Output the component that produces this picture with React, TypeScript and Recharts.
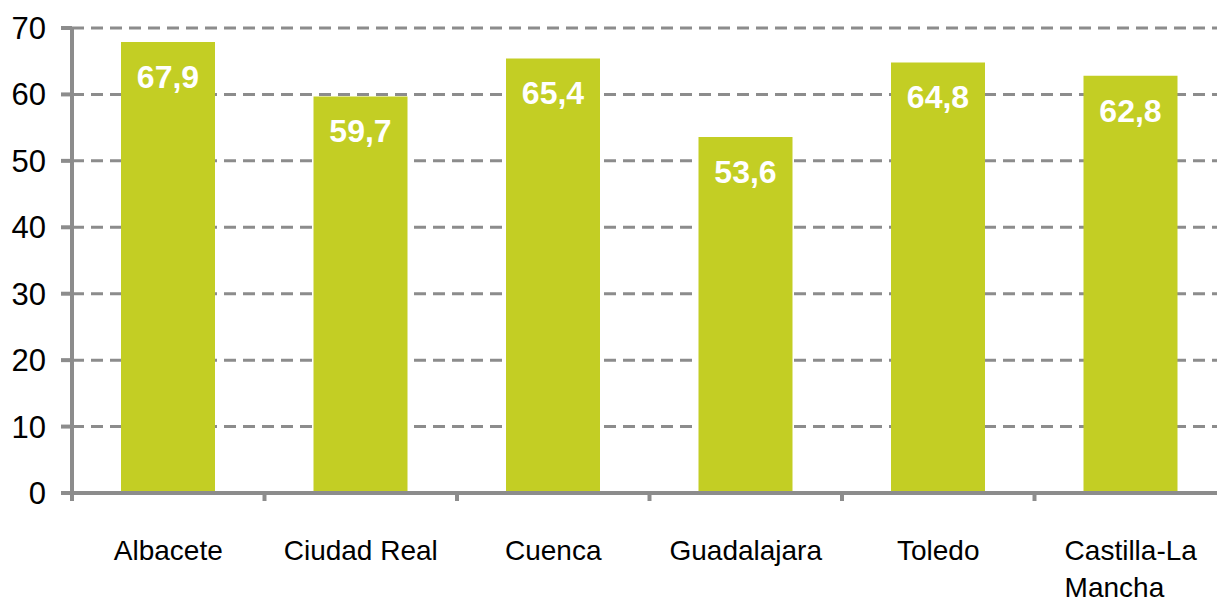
import { BarChart, Bar, XAxis, YAxis, CartesianGrid, LabelList } from "recharts";

const provinces = ["Albacete", "Ciudad Real", "Cuenca", "Guadalajara", "Toledo", "Castilla-La Mancha"];
const values = [67.9, 59.7, 65.4, 53.6, 64.8, 62.8];
const yTicks = [0, 10, 20, 30, 40, 50, 60, 70];

const data = provinces.map((name, i) => ({ name, value: values[i] }));

const GRAY = "#8c8c8c";
const GREEN = "#c3ce24";
const FONT = "'Liberation Sans', Arial, sans-serif";
const LABEL_SIZE = 28;

const fmt = (v: number) => v.toFixed(1).replace(".", ",");

const splitLabel = (s: string) => {
  if (s.length <= 14) return [s];
  const i = s.lastIndexOf(" ");
  return i > 0 ? [s.slice(0, i), s.slice(i + 1)] : [s];
};

let ctx: CanvasRenderingContext2D | null = null;
const measure = (s: string) => {
  if (!ctx) ctx = document.createElement("canvas").getContext("2d");
  if (!ctx) return s.length * LABEL_SIZE * 0.5;
  ctx.font = `${LABEL_SIZE}px ${FONT}`;
  return ctx.measureText(s).width;
};

const CategoryTick = (props: any) => {
  const { x, y, payload } = props;
  const half = payload?.offset ?? 0;
  const lines = splitLabel(String(payload.value));
  // multi-line labels: block centred, lines left-aligned
  const blockW = Math.max(...lines.map(measure));
  const multi = lines.length > 1;
  const tx = multi ? x - blockW / 2 : x;
  return (
    <g>
      <line x1={x - half} x2={x - half} y1={y - 10} y2={y} stroke={GRAY} strokeWidth={4} />
      <text x={tx} y={y} textAnchor={multi ? "start" : "middle"} fontSize={LABEL_SIZE} fill="#000" fontFamily={FONT}>
        {lines.map((l, i) => (
          <tspan key={i} x={tx} dy={i === 0 ? 59 : 37}>
            {l}
          </tspan>
        ))}
      </text>
    </g>
  );
};

const App = () => {
  return (
    <div style={{ position: "absolute", left: 0, top: 0, width: 1217, height: 601, overflow: "hidden", background: "#fff" }}>
      <BarChart width={1240} height={601} data={data} margin={{ top: 28, right: 13, bottom: 28, left: 0 }}>
        <CartesianGrid vertical={false} stroke={GRAY} strokeWidth={3} strokeDasharray="12 7" />
        <XAxis
          dataKey="name"
          height={80}
          axisLine={{ stroke: GRAY, strokeWidth: 4 }}
          tickLine={false}
          tickSize={8}
          tickMargin={0}
          interval={0}
          tick={<CategoryTick />}
        />
        <YAxis
          width={72}
          domain={[0, 70]}
          ticks={yTicks}
          interval={0}
          axisLine={{ stroke: GRAY, strokeWidth: 4 }}
          tickLine={{ stroke: GRAY, strokeWidth: 4 }}
          tickSize={11}
          tickMargin={15}
          tick={{ fontSize: 31, fill: "#000", fontFamily: FONT }}
        />
        <Bar dataKey="value" fill={GREEN} barSize={94} isAnimationActive={false}>
          <LabelList
            dataKey="value"
            position="insideTop"
            offset={23}
            formatter={(v: any) => fmt(Number(v))}
            style={{ fontSize: 32, fontWeight: "bold", fill: "#fff", fontFamily: FONT }}
          />
        </Bar>
      </BarChart>
    </div>
  );
};

export default App;
